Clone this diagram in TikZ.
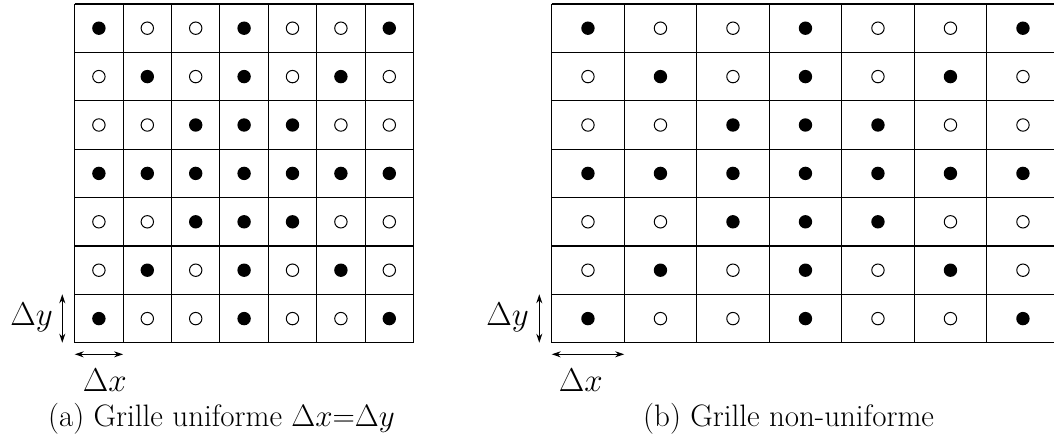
\RequirePackage{fix-cm}
\documentclass[tikz,border=0pt]{standalone}
\usetikzlibrary{arrows.meta}
\begin{document}
\begin{tikzpicture}[x=1pt,y=-1pt,
  gridline/.style={line width=1.1pt,black},
  fulldot/.style={circle,fill=black,inner sep=0pt,minimum size=13.4pt},
  emptydot/.style={circle,draw=black,line width=1pt,fill=white,inner sep=0pt,minimum size=12.4pt},
  dimarrow/.style={{Stealth[length=9pt,width=6pt]}-{Stealth[length=9pt,width=6pt]},line width=1.1pt},
  biglabel/.style={font=\fontsize{33}{40}\selectfont,inner sep=0pt},
  caplabel/.style={font=\fontsize{31}{37}\selectfont,inner sep=0pt,anchor=base west}]
\useasboundingbox (0,0) rectangle (1054,436);
\begin{scope}
\clip (0,0) rectangle (1054,436);
% left grid
\def\lx{74.7}\def\lw{48.4}
\def\ty{4}\def\rh{48.4}
\foreach \i in {0,...,7}{
  \draw[gridline] (\lx+\i*\lw,\ty) -- (\lx+\i*\lw,\ty+7*\rh);
  \draw[gridline] (\lx,\ty+\i*\rh) -- (\lx+7*\lw,\ty+\i*\rh);
}
% right grid
\def\rx{551.7}\def\rw{72.5}
\foreach \i in {0,...,7}{
  \draw[gridline] (\rx+\i*\rw,\ty) -- (\rx+\i*\rw,\ty+7*\rh);
  \draw[gridline] (\rx,\ty+\i*\rh) -- (\rx+7*\rw,\ty+\i*\rh);
}
\foreach \r in {1,...,7}{
  \foreach \c in {1,...,7}{
    \pgfmathtruncatemacro\filled{(\r==\c) || (\r+\c==8) || (\r==4) || (\c==4)}
    \ifnum\filled=1
      \node[fulldot] (L\r\c) at (\lx+\c*\lw-0.5*\lw,\ty+\r*\rh-0.5*\rh) {};
      \node[fulldot] (R\r\c) at (\rx+\c*\rw-0.5*\rw,\ty+\r*\rh-0.5*\rh) {};
    \else
      \node[emptydot] (L\r\c) at (\lx+\c*\lw-0.5*\lw,\ty+\r*\rh-0.5*\rh) {};
      \node[emptydot] (R\r\c) at (\rx+\c*\rw-0.5*\rw,\ty+\r*\rh-0.5*\rh) {};
    \fi
  }
}
\end{scope}
% dimension arrows
\coordinate (lxa) at (74.7,354.3);
\coordinate (lxb) at (123.1,354.3);
\draw[dimarrow] (lxa) -- (lxb);
\coordinate (lya) at (62.3,294.3);
\coordinate (lyb) at (62.3,342.7);
\draw[dimarrow] (lya) -- (lyb);
\coordinate (rxa) at (551.7,354.3);
\coordinate (rxb) at (624.2,354.3);
\draw[dimarrow] (rxa) -- (rxb);
\coordinate (rya) at (539.3,294.3);
\coordinate (ryb) at (539.3,342.7);
\draw[dimarrow] (rya) -- (ryb);
% labels
\node[biglabel,anchor=base] (ldx) at (104.7,391.5) {$\Delta x$};
\node[biglabel,anchor=base] (ldy) at (31.5,325) {$\Delta y$};
\node[biglabel,anchor=base] (rdx) at (580.8,391.5) {$\Delta x$};
\node[biglabel,anchor=base] (rdy) at (507.5,325) {$\Delta y$};
\node[caplabel] (capa) at (48,426.5) {(a) Grille uniforme $\Delta x$=$\Delta y$};
\node[caplabel] (capb) at (643,426.5) {(b) Grille non-uniforme};
\end{tikzpicture}
\end{document}
